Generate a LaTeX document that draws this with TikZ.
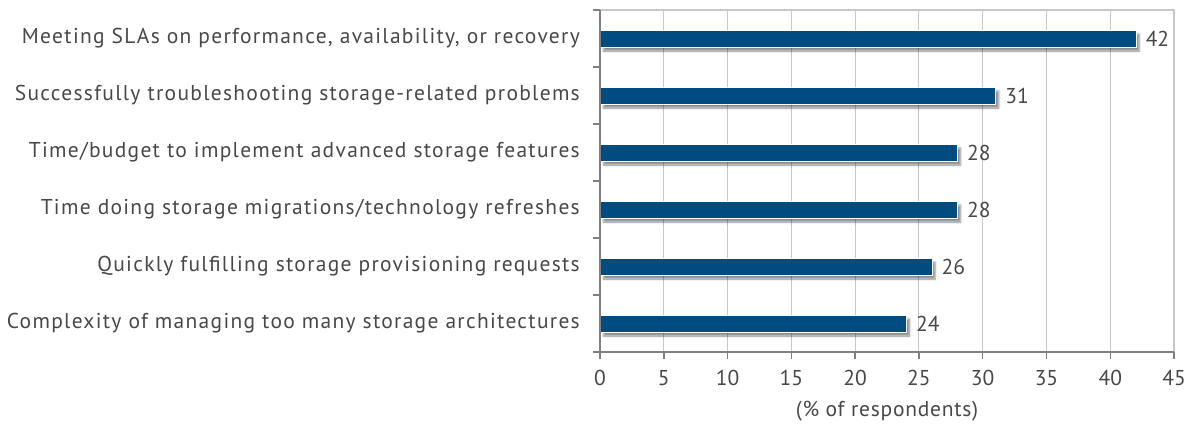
\documentclass[tikz,border=0pt]{standalone}
\usepackage{fontspec}
\setmainfont{PT Sans}
\newfontfamily\spaced[LetterSpace=6]{PT Sans}
\newfontfamily\spacedb[LetterSpace=3.5]{PT Sans}
\usetikzlibrary{shadows.blur}
\definecolor{barblue}{RGB}{0,75,128}
\definecolor{txt}{RGB}{72,72,72}
\definecolor{gridc}{RGB}{200,200,200}
\definecolor{axisc}{RGB}{128,128,128}
\begin{document}
\begin{tikzpicture}[x=1pt,y=-1pt,
  catlabel/.style={anchor=east,text=txt,font=\spaced\fontsize{21.5}{24}\selectfont,inner sep=0pt},
  vallabel/.style={anchor=west,text=txt,font=\fontsize{21.5}{24}\selectfont,inner sep=0pt},
  ticklabel/.style={anchor=north,text=txt,font=\fontsize{21.5}{24}\selectfont,inner sep=0pt},
  titlelabel/.style={anchor=north,text=txt,font=\spacedb\fontsize{21.5}{24}\selectfont,inner sep=0pt},
  bar/.style={fill=barblue,draw=white,line width=0.8pt,blur shadow={shadow xshift=3pt,shadow yshift=-4pt,shadow blur steps=6,shadow opacity=45}},
  gridline/.style={draw=gridc,line width=1pt},
  axisline/.style={draw=axisc,line width=1.5pt}]
\useasboundingbox (0,0) rectangle (1192,429);
% grid
\foreach \v in {5,10,...,40} {
  \draw[gridline] ({600+\v*12.756},10) -- ({600+\v*12.756},352);
}
\draw[draw=gridc,line width=1.5pt] (600,10) -- (1174,10) -- (1174,352);
% bars
\foreach \i/\v in {0/42,1/31,2/28,3/28,4/26,5/24} {
  \node[bar,inner sep=0pt,anchor=west,minimum width={\v*12.756pt},minimum height=17pt] (b\i) at (600,{38.5+57*\i}) {};
  \node[vallabel] (v\i) at ([xshift=9pt]b\i.east) {\v};
}
% axes
\draw[axisline] (600,10) -- (600,352) -- (1174,352);
\foreach \k in {0,...,6} { \draw[axisline] (593,{10+57*\k}) -- (600,{10+57*\k}); }
\foreach \v in {0,5,...,45} {
  \draw[axisline] ({600+\v*12.756},352) -- ({600+\v*12.756},359);
  \node[ticklabel] (t\v) at ({600+\v*12.756},370) {\v};
}
\node[titlelabel] (xt) at (887,401) {(\% of respondents)};
% category labels
\foreach \i/\t in {0/{Meeting SLAs on performance, availability, or recovery},
  1/{Successfully troubleshooting storage-related problems},
  2/{Time/budget to implement advanced storage features},
  3/{Time doing storage migrations/technology refreshes},
  4/{Quickly fulfilling storage provisioning requests},
  5/{Complexity of managing too many storage architectures}} {
  \node[catlabel] (c\i) at (580,{38.5+57*\i}) {\t};
}
\end{tikzpicture}
\end{document}
